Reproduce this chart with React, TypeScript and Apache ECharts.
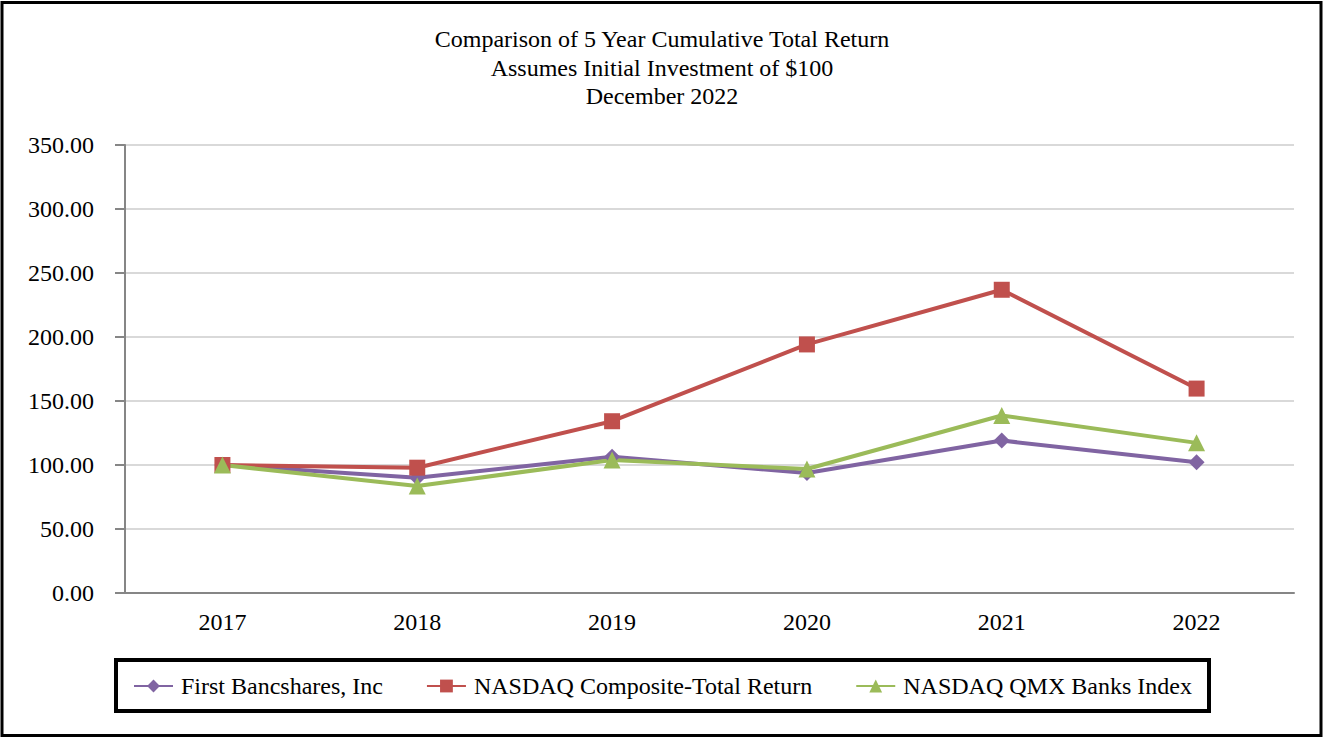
import React, { useEffect, useRef } from "react";
import * as echarts from "echarts";

const years = ["2017", "2018", "2019", "2020", "2021", "2022"];
const firstBancshares = [100, 90.1, 106.5, 93.7, 119.1, 102.1];
const nasdaqComposite = [100, 97.9, 134.2, 194.2, 236.9, 159.7];
const nasdaqBanks = [100, 83.6, 103.9, 96.9, 138.7, 117.3];
const titleLines = [
  "Comparison of 5 Year Cumulative Total Return",
  "Assumes Initial Investment of $100",
  "December 2022",
];

const FONT = "'Liberation Serif', 'Times New Roman', serif";

export default function App() {
  const ref = useRef<HTMLDivElement>(null);
  useEffect(() => {
    if (!ref.current) return;
    const chart = echarts.init(ref.current, undefined, { renderer: "svg" });
    const seriesDefs = [
      { name: "First Bancshares, Inc", data: firstBancshares, color: "#8064A2", symbol: "diamond", size: 16 },
      { name: "NASDAQ Composite-Total Return", data: nasdaqComposite, color: "#C0504D", symbol: "rect", size: 16 },
      { name: "NASDAQ QMX Banks Index", data: nasdaqBanks, color: "#9BBB59", symbol: "triangle", size: 17 },
    ];
    chart.setOption({
      animation: false,
      backgroundColor: "#ffffff",
      textStyle: { fontFamily: FONT },
      title: {
        text: titleLines.join("\n"),
        left: "center",
        top: 20,
        textStyle: {
          fontFamily: FONT,
          fontSize: 24,
          fontWeight: "normal",
          color: "#000000",
          lineHeight: 28.5,
        },
      },
      grid: { left: 125, right: 30, top: 145, bottom: 147, containLabel: false },
      xAxis: {
        type: "category",
        data: years,
        boundaryGap: true,
        axisLine: { lineStyle: { color: "#868686", width: 2 } },
        axisTick: { alignWithLabel: true, length: 10, lineStyle: { color: "#868686", width: 2 } },
        axisLabel: { color: "#000000", fontSize: 24, fontFamily: FONT, margin: 17 },
      },
      yAxis: {
        type: "value",
        min: 0,
        max: 350,
        interval: 50,
        axisLine: { show: true, lineStyle: { color: "#868686", width: 2 } },
        axisTick: { show: true, length: 10, lineStyle: { color: "#868686", width: 2 } },
        axisLabel: {
          color: "#000000",
          fontSize: 24,
          fontFamily: FONT,
          margin: 31,
          formatter: (v: number) => v.toFixed(2),
        },
        splitLine: { lineStyle: { color: "#D9D9D9", width: 2 } },
      },
      legend: {
        left: 133,
        top: 674,
        padding: 0,
        itemWidth: 39,
        itemHeight: 16,
        itemGap: 43,
        textStyle: { fontFamily: FONT, fontSize: 24, color: "#000000", padding: [0, 0, 0, 3] },
        data: seriesDefs.map((s) => s.name),
      },
      graphic: [
        {
          type: "rect",
          shape: { x: 2, y: 2.5, width: 1319, height: 733 },
          style: { fill: "none", stroke: "#000000", lineWidth: 3 },
          silent: true,
        },
        {
          type: "rect",
          shape: { x: 116, y: 660, width: 1093, height: 51 },
          style: { fill: "none", stroke: "#000000", lineWidth: 4 },
          silent: true,
        },
      ],
      series: seriesDefs.map((s) => ({
        name: s.name,
        type: "line",
        data: s.data,
        symbol: s.symbol,
        symbolSize: s.size,
        showSymbol: true,
        lineStyle: { color: s.color, width: 4 },
        itemStyle: { color: s.color, borderWidth: 0 },
        z: 2,
      })),
    });
    return () => chart.dispose();
  }, []);
  return (
    <div
      ref={ref}
      style={{ position: "fixed", left: 0, top: 0, width: 1324, height: 740, background: "#fff" }}
    />
  );
}
